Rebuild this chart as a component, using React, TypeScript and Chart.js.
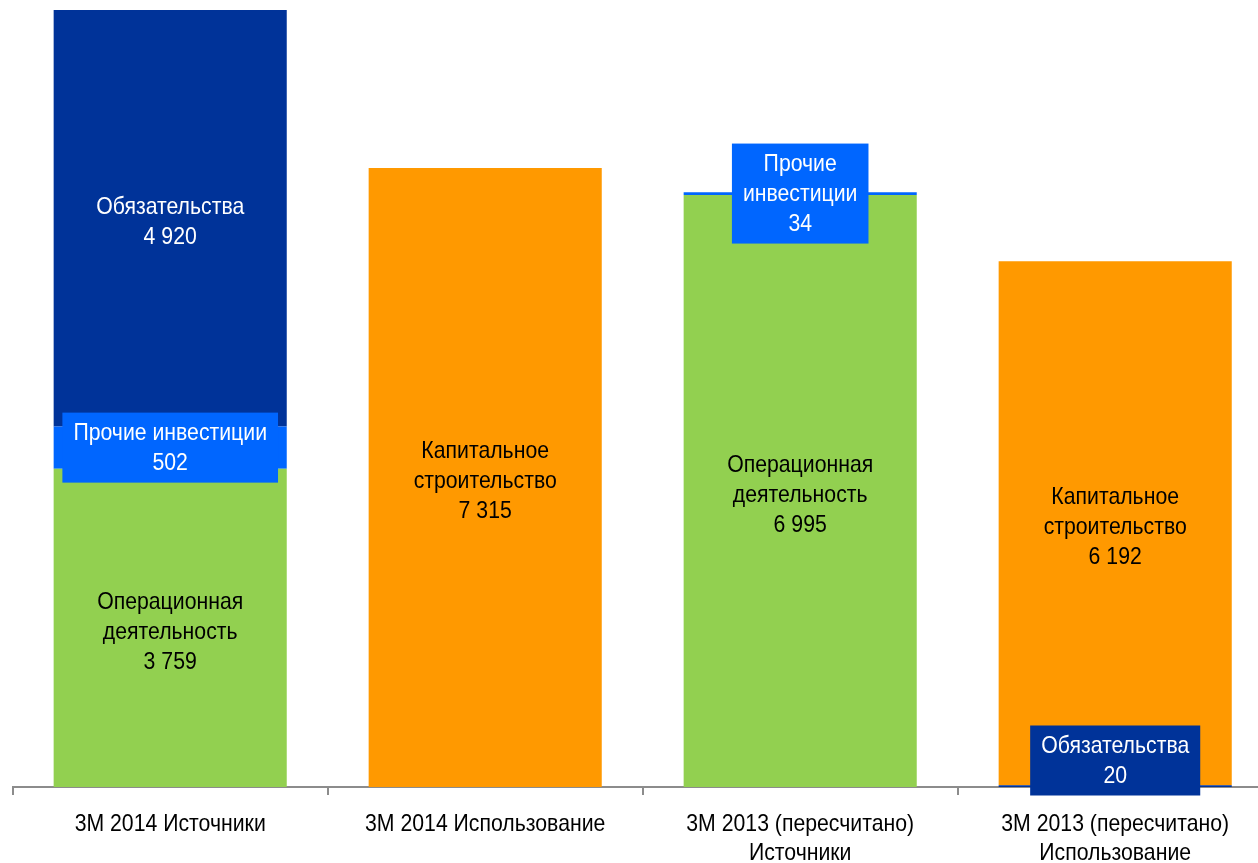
import React, { useEffect, useRef } from "react";
import { Chart, registerables } from "chart.js";

Chart.register(...registerables);

const categories: string[][] = [
  ["3M 2014 Источники"],
  ["3M 2014 Использование"],
  ["3M 2013 (пересчитано)", "Источники"],
  ["3M 2013 (пересчитано)", "Использование"],
];

const seriesNames = [
  "Операционная деятельность",
  "Прочие инвестиции",
  "Обязательства",
  "Капитальное строительство",
];

const operations: (number | null)[] = [3759, null, 6995, null];
const otherInvestments: (number | null)[] = [502, null, 34, null];
const liabilities: (number | null)[] = [4920, null, null, 20];
const capex: (number | null)[] = [null, 7315, null, 6192];

// label name lines per series per category
const labelNameLines: (string[] | null)[][] = [
  [["Операционная", "деятельность"], null, ["Операционная", "деятельность"], null],
  [["Прочие инвестиции"], null, ["Прочие", "инвестиции"], null],
  [["Обязательства"], null, null, ["Обязательства"]],
  [null, ["Капитальное", "строительство"], null, ["Капитальное", "строительство"]],
];

const colors = ["#92D050", "#0066FF", "#003399", "#FF9900"];
const textColors = ["#000000", "#FFFFFF", "#FFFFFF", "#000000"];

const fmt = (v: number) => String(v).replace(/\B(?=(\d{3})+(?!\d))/g, " ");

const FONT = "'Liberation Sans', Arial, sans-serif";
const FONT_SIZE = 24;
const SX = 0.885; // horizontal condensing of the text

function drawCondensed(ctx: CanvasRenderingContext2D, text: string, x: number, y: number) {
  ctx.save();
  ctx.translate(x, y);
  ctx.scale(SX, 1);
  ctx.fillText(text, 0, 0);
  ctx.restore();
}

const labelPlugin = {
  id: "segLabels",
  afterDatasetsDraw(chart: any) {
    const ctx = chart.ctx as CanvasRenderingContext2D;
    ctx.save();
    ctx.font = `${FONT_SIZE}px ${FONT}`;
    ctx.textAlign = "center";
    ctx.textBaseline = "middle";
    const lineH = 30;
    chart.data.datasets.forEach((ds: any, i: number) => {
      const meta = chart.getDatasetMeta(i);
      meta.data.forEach((bar: any, j: number) => {
        const v = ds.data[j];
        if (v == null) return;
        const nameLines = labelNameLines[i][j];
        if (!nameLines) return;
        const lines = [...nameLines, fmt(v)];
        const segH = Math.abs(bar.base - bar.y);
        const boxed = segH < 60;
        let yc = (bar.y + bar.base) / 2 + (boxed ? 0 : 3);
        const totalH = lines.length * lineH;
        if (boxed && i === 2) {
          // thin segment at the bottom: box placed just above the axis
          yc = bar.base - 26.5;
        }
        if (boxed) {
          let w = 0;
          lines.forEach((l) => (w = Math.max(w, ctx.measureText(l).width * SX)));
          const bw = w + 22;
          const bh = totalH + 10;
          ctx.fillStyle = colors[i];
          ctx.fillRect(bar.x - bw / 2, yc - bh / 2, bw, bh);
        }
        ctx.fillStyle = textColors[i];
        lines.forEach((l, k) => {
          drawCondensed(ctx, l, bar.x, yc + (k - (lines.length - 1) / 2) * lineH + 1);
        });
      });
    });

    // category labels
    const xs = chart.scales.x;
    ctx.fillStyle = "#000000";
    categories.forEach((lines, j) => {
      const x = xs.getPixelForValue(j);
      lines.forEach((l, k) => {
        drawCondensed(ctx, l, x, xs.top + 37 + k * 29);
      });
    });
    ctx.restore();
  },
};

export default function App() {
  const ref = useRef<HTMLCanvasElement | null>(null);
  useEffect(() => {
    if (!ref.current) return;
    const chart = new Chart(ref.current, {
      type: "bar",
      data: {
        labels: categories,
        datasets: [
          { label: seriesNames[0], data: operations, backgroundColor: colors[0] },
          { label: seriesNames[1], data: otherInvestments, backgroundColor: colors[1] },
          { label: seriesNames[2], data: liabilities, backgroundColor: colors[2] },
          { label: seriesNames[3], data: capex, backgroundColor: colors[3] },
        ],
      },
      options: {
        animation: false,
        responsive: false,
        maintainAspectRatio: false,
        layout: { padding: { left: 12.7, right: 7.3, top: 10, bottom: 0 } },
        datasets: { bar: { categoryPercentage: 1, barPercentage: 0.74, skipNull: false } },
        plugins: { legend: { display: false }, tooltip: { enabled: false } },
        scales: {
          x: {
            stacked: true,
            offset: true,
            grid: {
              display: true,
              drawOnChartArea: false,
              drawTicks: true,
              tickLength: 8,
              color: "#8C8C8C",
              lineWidth: 2,
              offset: true,
            },
            border: { display: true, color: "#8C8C8C", width: 2 },
            ticks: {
              display: false,
            },
            afterFit: (scale: any) => {
              scale.height = 863 - 787;
            },
          },
          y: {
            stacked: true,
            display: false,
            min: 0,
            max: 9181,
          },
        },
      },
      plugins: [labelPlugin],
    });
    return () => chart.destroy();
  }, []);
  return (
    <div style={{ position: "fixed", left: 0, top: 0, width: 1258, height: 863, overflow: "hidden", background: "#fff" }}>
      <canvas ref={ref} width={1280} height={863} style={{ display: "block" }} />
    </div>
  );
}
